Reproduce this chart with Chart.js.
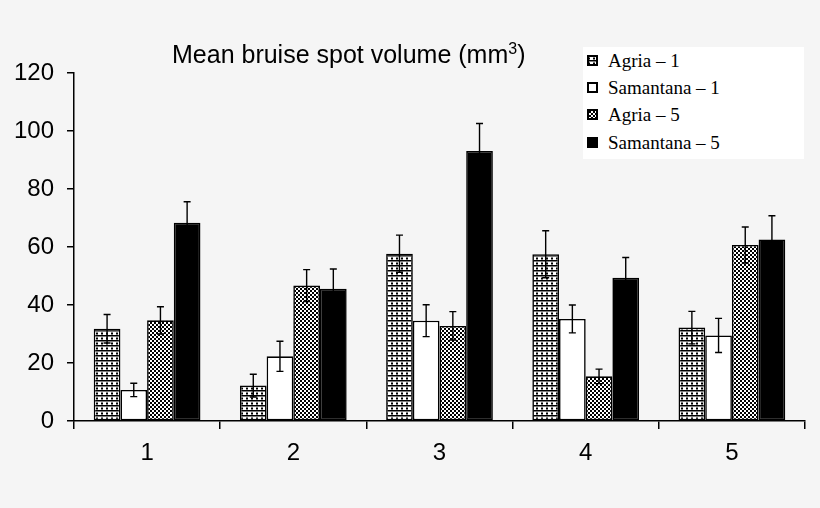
<!DOCTYPE html>
<html>
<head>
<meta charset="utf-8">
<script src="https://cdn.jsdelivr.net/npm/chart.js@4.4.0/dist/chart.umd.min.js"></script>
<style>
    body { margin: 0; background: #f5f5f5; }
    #wrap { position: relative; width: 820px; height: 508px; }
    #title {
        position: absolute; left: 172px; top: 40px;
        font-family: "Liberation Sans", Arial, sans-serif; font-size: 25px; color: #000;
        white-space: nowrap;
    }
    #title sup { font-size: 16px; }
    #legend {
        position: absolute; left: 583px; top: 47px; width: 221px; height: 112px;
        background: #fff;
        font-family: "Liberation Serif", "Times New Roman", serif; font-size: 19px; color: #000;
    }
    .item { position: absolute; left: 4px; height: 22px; line-height: 22px; white-space: nowrap; }
    .item canvas { vertical-align: middle; margin-right: 10px; position: relative; top: -2px; }
</style>
</head>
<body>
<div id="wrap">
    <canvas id="chart"></canvas>
    <div id="title">Mean bruise spot volume (mm<sup>3</sup>)</div>
    <div id="legend"></div>
</div>
<script>
const groups = ['1', '2', '3', '4', '5'];
const seriesNames = ['Agria \u2013 1', 'Samantana \u2013 1', 'Agria \u2013 5', 'Samantana \u2013 5'];

const agria1 = [31.8, 12.2, 57.7, 57.5, 32.2];
const agria1Err = [4.9, 3.9, 6.4, 8.1, 5.6];
const samantana1 = [10.7, 22.3, 34.6, 35.2, 29.5];
const samantana1Err = [2.3, 5.2, 5.5, 4.8, 5.9];
const agria5 = [34.7, 46.7, 32.8, 15.4, 60.7];
const agria5Err = [4.7, 5.5, 4.9, 2.5, 6.2];
const samantana5 = [68.4, 45.6, 93.1, 49.4, 62.6];
const samantana5Err = [7.2, 6.8, 9.5, 7.0, 8.2];

const yMax = 120;
const yStep = 20;

// fill patterns, built on small canvases
function makePattern(kind) {
    let c = document.createElement('canvas');
    let ctx = c.getContext('2d');
    if (kind === 'grid') {
        c.width = 5; c.height = 5;
        ctx.fillStyle = '#fff';
        ctx.fillRect(0, 0, 5, 5);
        ctx.fillStyle = '#000';
        ctx.fillRect(0, 0, 5, 1.5);
        ctx.fillRect(1, 2.5, 2, 2);
    } else if (kind === 'checker') {
        c.width = 4; c.height = 4;
        ctx.fillStyle = '#fff';
        ctx.fillRect(0, 0, 4, 4);
        ctx.fillStyle = '#000';
        ctx.fillRect(0, 0, 2, 2);
        ctx.fillRect(2, 2, 2, 2);
    }
    return ctx.createPattern(c, 'repeat');
}

const fills = [makePattern('grid'), '#ffffff', makePattern('checker'), '#000000'];
const values = [agria1, samantana1, agria5, samantana5];
const errors = [agria1Err, samantana1Err, agria5Err, samantana5Err];

const errorBars = {
    id: 'errorBars',
    afterDatasetsDraw(chart) {
        let ctx = chart.ctx;
        let y = chart.scales.y;
        ctx.save();
        ctx.strokeStyle = '#000';
        ctx.lineWidth = 1.4;
        chart.data.datasets.forEach(function (ds, i) {
            chart.getDatasetMeta(i).data.forEach(function (bar, j) {
                let v = ds.data[j];
                let e = errors[i][j];
                let top = y.getPixelForValue(v + e);
                let bot = y.getPixelForValue(v - e);
                ctx.beginPath();
                ctx.moveTo(bar.x, top);
                ctx.lineTo(bar.x, bot);
                ctx.moveTo(bar.x - 3.5, top);
                ctx.lineTo(bar.x + 3.5, top);
                ctx.moveTo(bar.x - 3.5, bot);
                ctx.lineTo(bar.x + 3.5, bot);
                ctx.stroke();
            });
        });
        ctx.restore();
    }
};

new Chart(document.getElementById('chart'), {
    type: 'bar',
    data: {
        labels: groups,
        datasets: seriesNames.map(function (name, i) {
            return {
                label: name,
                data: values[i],
                backgroundColor: fills[i],
                borderColor: '#000',
                borderWidth: 1.6,
                borderSkipped: false,
                categoryPercentage: 0.73,
                barPercentage: 1.0
            };
        })
    },
    options: {
        responsive: true,
        maintainAspectRatio: false,
        animation: false,
        layout: { padding: { top: 73, right: 15, left: 0, bottom: 0 } },
        plugins: {
            legend: { display: false },
            title: { display: false },
            tooltip: { enabled: false }
        },
        scales: {
            x: {
                grid: { drawOnChartArea: false, color: '#000', lineWidth: 1.5, tickLength: 8 },
                border: { color: '#000', width: 1.5 },
                ticks: {
                    color: '#000', padding: 10,
                    font: { family: '"Liberation Sans", Arial, sans-serif', size: 24 }
                },
                afterFit: function (scale) { scale.height = 87; }
            },
            y: {
                min: 0,
                max: yMax,
                grid: { drawOnChartArea: false, color: '#000', lineWidth: 1.5, tickLength: 7 },
                border: { color: '#000', width: 1.5 },
                ticks: {
                    stepSize: yStep, color: '#000', padding: 13,
                    font: { family: '"Liberation Sans", Arial, sans-serif', size: 24 }
                },
                afterFit: function (scale) { scale.width = 74; }
            }
        }
    },
    plugins: [errorBars]
});

// legend with swatches drawn from the same fills
let legend = document.getElementById('legend');
let rowTops = [3, 30, 57, 85];
seriesNames.forEach(function (name, i) {
    let item = document.createElement('div');
    item.className = 'item';
    item.style.top = rowTops[i] + 'px';
    let sw = document.createElement('canvas');
    sw.width = 11; sw.height = 11;
    let sctx = sw.getContext('2d');
    sctx.fillStyle = fills[i];
    sctx.fillRect(0, 0, 11, 11);
    sctx.strokeStyle = '#000';
    sctx.lineWidth = 2;
    sctx.strokeRect(1, 1, 9, 9);
    item.appendChild(sw);
    item.appendChild(document.createTextNode(name));
    legend.appendChild(item);
});
</script>
</body>
</html>
